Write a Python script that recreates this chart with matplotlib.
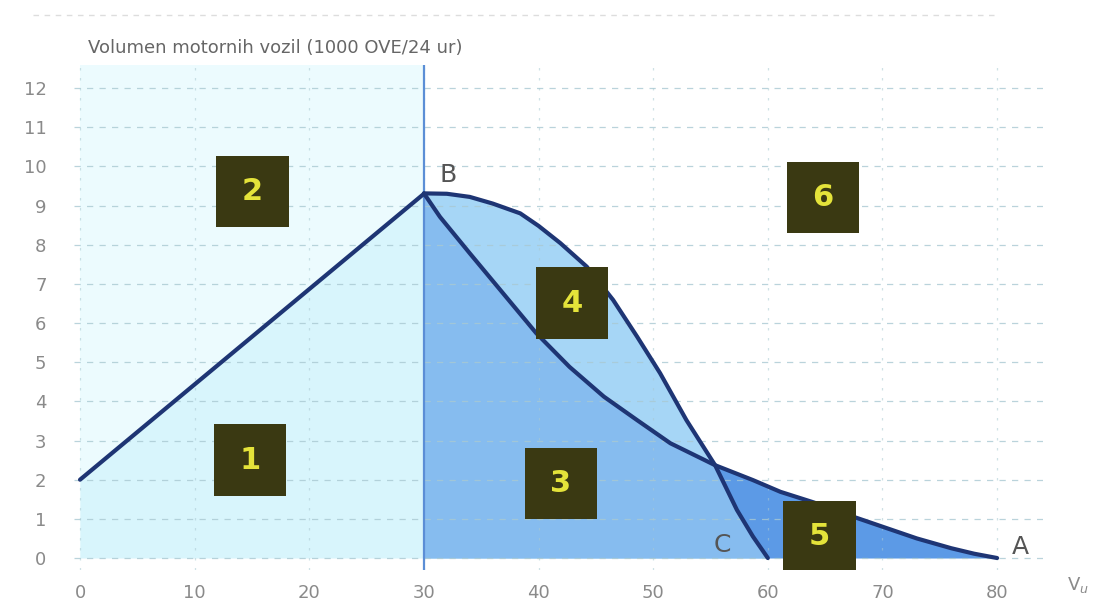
import numpy as np
import matplotlib
matplotlib.use('Agg')
import matplotlib.pyplot as plt
from matplotlib.patches import Polygon, Rectangle

# left branch 0 -> B
left_x = [0, 30]
left_y = [2.0, 9.3]

# upper curve B -> C
upper_x = [30, 32, 34, 36, 38.4, 40, 41.9, 44.2, 46.5, 48.6, 50.6, 52.9, 55.4, 57.3, 58.7, 60]
upper_y = [9.31, 9.3, 9.22, 9.05, 8.8, 8.48, 8.04, 7.44, 6.59, 5.65, 4.72, 3.52, 2.37, 1.23, 0.55, 0.0]

# lower curve B -> A
lower_x = [30, 31.4, 34, 36.9, 39.8, 42.7, 45.7, 48.6, 51.5, 55.4, 58.7, 61.1, 64, 67, 70, 73, 76, 78, 80]
lower_y = [9.31, 8.71, 7.78, 6.76, 5.74, 4.88, 4.12, 3.52, 2.93, 2.37, 1.99, 1.69, 1.42, 1.1, 0.8, 0.5, 0.25, 0.11, 0.0]

x_ticks = [0, 10, 20, 30, 40, 50, 60, 70, 80]
y_ticks = list(range(13))

points = ['B', 'C', 'A']
point_xy = [(32.1, 9.78), (56.0, 0.33), (82.0, 0.28)]

areas = ['1', '2', '3', '4', '5', '6']
area_xy = [(14.8, 2.5), (15.05, 9.35), (41.96, 1.91), (42.9, 6.51), (64.5, 0.55), (64.8, 9.2)]

title = 'Volumen motornih vozil (1000 OVE/24 ur)'

c_line = '#1e3574'
c_left_lo = '#d8f5fc'
c_left_hi = '#ecfbfe'
c_reg3 = '#86bcef'
c_reg4 = '#a6d6f6'
c_reg5 = '#5c9ae6'
c_box = '#3a3912'
c_num = '#e4e33a'
c_txt = '#8a8a8a'

fig = plt.figure(figsize=(11.04, 6.03), dpi=100)
ax = fig.add_axes([0.0673, 0.0551, 0.8774, 0.8379])
ax.set_xlim(-0.5, 84)
ax.set_ylim(-0.3, 12.6)
for s in ax.spines.values():
    s.set_visible(False)

# left region (0..30)
ax.fill_between([0, 30], [12.6, 12.6], color=c_left_hi, lw=0, zorder=0)
ax.fill_between(left_x, left_y, color=c_left_lo, lw=0, zorder=0.5)

# right regions
ax.fill_between(lower_x, lower_y, color=c_reg5, lw=0, zorder=1)
ax.fill_between(upper_x, upper_y, color=c_reg4, lw=0, zorder=1.1)
clip = Polygon(list(zip(upper_x, upper_y)) + [(60, 0), (30, 0)], closed=True,
               transform=ax.transData, facecolor='none', edgecolor='none')
ax.add_patch(clip)
r3 = ax.fill_between(lower_x, lower_y, color=c_reg3, lw=0, zorder=1.2)
r3.set_clip_path(clip)

# grid
ax.set_xticks(x_ticks)
ax.set_yticks(y_ticks)
ax.grid(True, axis='y', color='#a9c9d2', linestyle=(0, (5, 5)), lw=0.9, alpha=0.8, zorder=2)
ax.grid(True, axis='x', color='#a9c9d2', linestyle=(0, (2, 6)), lw=0.9, alpha=0.55, zorder=2)
ax.set_axisbelow(False)
ax.tick_params(length=0, colors=c_txt, labelsize=13)
ax.tick_params(axis='y', pad=20)
ax.tick_params(axis='x', pad=10)

# vertical line at 30
ax.plot([30, 30], [-0.3, 12.6], color='#5b8ed6', lw=1.6, zorder=3)

# curves
ax.plot(left_x, left_y, color=c_line, lw=3, solid_capstyle='round', zorder=4)
ax.plot(upper_x, upper_y, color=c_line, lw=3, solid_capstyle='round',
        solid_joinstyle='round', zorder=4)
ax.plot(lower_x, lower_y, color=c_line, lw=3, solid_capstyle='round',
        solid_joinstyle='round', zorder=4)

for lab, (px, py) in zip(points, point_xy):
    ax.text(px, py, lab, color='#555555', fontsize=18, ha='center', va='center', zorder=5)

bw, bh = 6.3, 1.82
for lab, (px, py) in zip(areas, area_xy):
    ax.add_patch(Rectangle((px - bw / 2, py - bh / 2), bw, bh, facecolor=c_box,
                           edgecolor='none', zorder=6))
    ax.text(px, py, lab, color=c_num, fontsize=22, fontweight='bold',
            ha='center', va='center', zorder=7)

fig.text(0.08, 0.92, title, color='#666666', fontsize=13, ha='left', va='center')
fig.text(0.976, 0.013, 'V$_u$', color=c_txt, fontsize=13, ha='center', va='bottom')
fig.add_artist(plt.Line2D([0.03, 0.9], [0.975, 0.975], color='#dddddd', lw=1,
                          linestyle=(0, (4, 4))))

fig.savefig('out.png', dpi=100)
